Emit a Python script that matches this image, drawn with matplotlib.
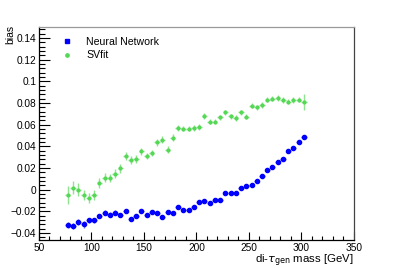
import matplotlib
matplotlib.use("Agg")
import matplotlib.pyplot as plt
import numpy as np
from matplotlib.ticker import MultipleLocator
from matplotlib.lines import Line2D

plt.rcParams["font.family"] = ["Liberation Sans", "DejaVu Sans"]

# bin centres (di-tau gen mass, GeV)
mass = np.arange(77.5, 305, 5.0)

nn_bias = [
    -0.0328, -0.0338, -0.0300, -0.0322, -0.0284, -0.0284, -0.0245, -0.0212,
    -0.0231, -0.0212, -0.0237, -0.0200, -0.0274, -0.0243, -0.0200, -0.0230,
    -0.0211, -0.0213, -0.0254, -0.0203, -0.0213, -0.0164, -0.0188, -0.0184,
    -0.0157, -0.0115, -0.0105, -0.0119, -0.0095, -0.0093, -0.0033, -0.0031,
    -0.0031, 0.0016, 0.0032, 0.0047, 0.0078, 0.0130, 0.0180, 0.0211,
    0.0258, 0.0279, 0.0360, 0.0388, 0.0437, 0.0490,
]
nn_err = [
    0.003, 0.003, 0.003, 0.003, 0.0025, 0.0025, 0.002, 0.002,
    0.002, 0.002, 0.002, 0.0015, 0.0015, 0.0015, 0.0015, 0.0015,
    0.0015, 0.0015, 0.0015, 0.0015, 0.0012, 0.0012, 0.0012, 0.0012,
    0.0012, 0.0012, 0.001, 0.001, 0.001, 0.001, 0.001, 0.001,
    0.001, 0.001, 0.001, 0.001, 0.001, 0.001, 0.001, 0.001,
    0.001, 0.001, 0.001, 0.001, 0.001, 0.0015,
]

svfit_bias = [
    -0.0050, 0.0015, -0.0002, -0.0050, -0.0078, -0.0050, 0.0062, 0.0110,
    0.0108, 0.0148, 0.0197, 0.0310, 0.0273, 0.0284, 0.0352, 0.0310,
    0.0337, 0.0435, 0.0462, 0.0370, 0.0480, 0.0569, 0.0562, 0.0562,
    0.0567, 0.0578, 0.0680, 0.0628, 0.0628, 0.0667, 0.0713, 0.0677,
    0.0661, 0.0713, 0.0673, 0.0774, 0.0759, 0.0781, 0.0829, 0.0839,
    0.0845, 0.0827, 0.0811, 0.0827, 0.0829, 0.0808,
]
svfit_err = [
    0.008, 0.006, 0.006, 0.005, 0.005, 0.005, 0.0045, 0.004,
    0.004, 0.004, 0.004, 0.0035, 0.0035, 0.0035, 0.0035, 0.003,
    0.003, 0.003, 0.003, 0.003, 0.003, 0.0025, 0.0025, 0.0025,
    0.0025, 0.0025, 0.0025, 0.0025, 0.0025, 0.0025, 0.0025, 0.0025,
    0.0025, 0.0025, 0.0025, 0.0025, 0.0025, 0.0025, 0.0025, 0.0025,
    0.0025, 0.0025, 0.0025, 0.0025, 0.0025, 0.007,
]

half_bin = 2.5
BLUE = "#0000ff"
GREEN = "#55d855"

fig = plt.figure(figsize=(3.94, 2.68), dpi=100)
ax = fig.add_axes([0.099, 0.1045, 0.799, 0.7945])

ax.errorbar(mass, svfit_bias, xerr=half_bin, yerr=svfit_err, fmt="o",
            ms=2.0, color=GREEN, ecolor="#8fe48f", elinewidth=1.0,
            capsize=0, zorder=3)
ax.errorbar(mass, nn_bias, xerr=half_bin, yerr=nn_err, fmt="o",
            ms=3.0, color=BLUE, ecolor="#6a6aff", elinewidth=1.0,
            capsize=0, zorder=4)

ax.set_xlim(50, 350)
ax.set_ylim(-0.0465, 0.150)

ax.xaxis.set_major_locator(MultipleLocator(50))
ax.xaxis.set_minor_locator(MultipleLocator(10))
ax.yaxis.set_minor_locator(MultipleLocator(0.004))
ax.set_yticks(np.arange(-0.04, 0.141, 0.02))
ax.set_yticklabels(["\u22120.04", "\u22120.02", "0", "0.02", "0.04",
                    "0.06", "0.08", "0.1", "0.12", "0.14"])

ax.tick_params(which="both", direction="in", top=False, right=False,
               labelsize=7.3, width=0.8, pad=2)
ax.tick_params(axis="y", which="major", length=8)
ax.tick_params(axis="y", which="minor", length=4)
ax.tick_params(axis="x", which="major", length=6)
ax.tick_params(axis="x", which="minor", length=3)

ax.spines["top"].set_color("#999999")
ax.spines["right"].set_color("#444444")
for s in ax.spines.values():
    s.set_linewidth(0.9)

ax.set_ylabel("bias", fontsize=7.5, loc="top")
ax.yaxis.set_label_coords(-0.075, 1.01)
ax.set_xlabel(r"di-$\tau_{\rm gen}$ mass [GeV]", fontsize=8.2, loc="right",
              labelpad=0)

handles = [
    Line2D([], [], ls="none", marker="s", ms=2.6, color=BLUE),
    Line2D([], [], ls="none", marker="o", ms=2.4, color=GREEN),
]
ax.legend(handles, ["Neural Network", "SVfit"], loc="upper left",
          bbox_to_anchor=(0.04, 1.0), frameon=False, fontsize=7.6,
          handletextpad=1.2, labelspacing=0.35, handlelength=1.2)

fig.savefig("out.png", dpi=100, facecolor="white")
